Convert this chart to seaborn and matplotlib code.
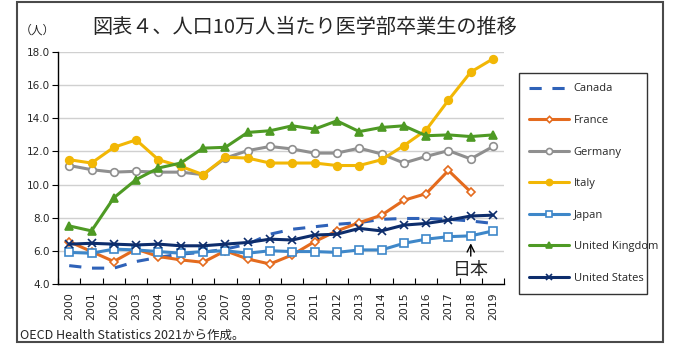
import numpy as np
import pandas as pd
import matplotlib
matplotlib.use("Agg")
import matplotlib.pyplot as plt
import seaborn as sns
from matplotlib.patches import Rectangle

# データ（人口10万人当たり医学部卒業生）
years = list(range(2000, 2020))
canada = [5.1, 4.95, 4.95, 5.35, 5.6, 5.8, 5.9, 6.1, 6.4, 7.0, 7.3, 7.45, 7.6, 7.7, 7.9, 7.95, 7.95, 7.9, 7.8, 7.65]
france = [6.55, 5.95, 5.35, 6.1, 5.65, 5.45, 5.3, 6.0, 5.5, 5.2, 5.75, 6.55, 7.2, 7.7, 8.15, 9.05, 9.45, 10.85, 9.55, np.nan]
germany = [11.15, 10.9, 10.75, 10.8, 10.75, 10.75, 10.6, 11.6, 12.05, 12.3, 12.15, 11.9, 11.9, 12.2, 11.85, 11.3, 11.7, 12.05, 11.55, 12.3]
italy = [11.5, 11.3, 12.25, 12.7, 11.5, 11.1, 10.6, 11.65, 11.6, 11.3, 11.3, 11.3, 11.15, 11.15, 11.5, 12.35, 13.3, 15.1, 16.8, 17.6]
japan = [5.9, 5.85, 6.1, 6.05, 5.95, 5.85, 5.95, 6.0, 5.85, 6.0, 5.95, 5.95, 5.9, 6.05, 6.05, 6.45, 6.7, 6.85, 6.9, 7.2]
uk = [7.5, 7.2, 9.2, 10.3, 11.0, 11.3, 12.2, 12.25, 13.15, 13.25, 13.55, 13.35, 13.85, 13.2, 13.45, 13.55, 12.95, 13.0, 12.9, 13.0]
us = [6.4, 6.45, 6.4, 6.35, 6.4, 6.3, 6.3, 6.4, 6.5, 6.7, 6.65, 6.95, 7.0, 7.35, 7.2, 7.55, 7.65, 7.85, 8.1, 8.15]

sns.set_theme(style="white")
plt.rcParams['font.family'] = ['Noto Sans CJK JP', 'DejaVu Sans']

fig = plt.figure(figsize=(6.75, 3.5), dpi=100)
ax = fig.add_axes([0.086, 0.189, 0.661, 0.662])

# 系列ごとのスタイル: (名前, 値, 色, マーカー, 塗り, 線種)
series = [
    ('Canada', canada, '#2f62b8', None, None, (0, (4, 3.5))),
    ('France', france, '#e46b1e', 'D', 'white', '-'),
    ('Germany', germany, '#8f8f8f', 'o', 'white', '-'),
    ('Italy', italy, '#f2b705', 'o', '#f2b705', '-'),
    ('Japan', japan, '#3e87c9', 's', 'white', '-'),
    ('United Kingdom', uk, '#4e9a24', '^', '#4e9a24', '-'),
    ('United States', us, '#0d2d6c', 'x', '#0d2d6c', '-'),
]

for name, vals, color, marker, face, ls in series:
    df = pd.DataFrame({'year': years, 'value': vals}).dropna()
    kw = dict(x='year', y='value', data=df, ax=ax, color=color,
              linewidth=2.2, label=name)
    if marker is None:
        sns.lineplot(**kw)
        ax.lines[-1].set_linestyle(ls)
    else:
        ms = 4 if marker == 'D' else 5.5
        sns.lineplot(**kw, marker=marker, markersize=ms,
                     markerfacecolor=face, markeredgecolor=color,
                     markeredgewidth=1.2)

ax.set_xlim(1999.5, 2019.5)
ax.set_ylim(4, 18)
ax.set_yticks(np.arange(4, 18.1, 2))
ax.set_yticklabels([f"{v:.1f}" for v in np.arange(4, 18.1, 2)],
                   fontsize=7.5, family='DejaVu Sans')
ax.set_xticks(years)
ax.set_xticklabels([str(y) for y in years], rotation=90, fontsize=7.8,
                   family='DejaVu Sans')
ax.set_xticks(np.arange(1999.5, 2020, 1), minor=True)
ax.tick_params(axis='x', which='major', length=0, pad=6)
ax.tick_params(axis='x', which='minor', direction='in', length=4,
               width=0.8, color='black', bottom=True)
ax.tick_params(axis='y', direction='out', length=4, width=0.8,
               color='black', left=True, pad=2)
ax.set_xlabel('')
ax.set_ylabel('')
ax.yaxis.grid(True, color='#d0d0d0', linewidth=1)
ax.set_axisbelow(True)
for s in ['top', 'right']:
    ax.spines[s].set_visible(False)
for s in ['left', 'bottom']:
    ax.spines[s].set_color('black')
    ax.spines[s].set_linewidth(1)

if ax.get_legend():
    ax.get_legend().remove()
handles, labels = ax.get_legend_handles_labels()
leg = fig.legend(handles, labels, loc='upper left',
                 bbox_to_anchor=(0.761, 0.157, 0.206, 0.649), mode='expand',
                 labelspacing=1.85, handlelength=3.6, markerscale=0.8,
                 handletextpad=0.4, borderpad=0.9, frameon=True,
                 fancybox=False, prop={'family': ['Open Sans', 'DejaVu Sans'], 'size': 8})
leg.get_frame().set_edgecolor('black')
leg.get_frame().set_linewidth(1)

# 日本の注記
ax.annotate('日本', xy=(2018, 6.45), xytext=(2018, 4.85), ha='center',
            va='center', fontsize=13,
            arrowprops=dict(arrowstyle='->', color='black', lw=1,
                            shrinkA=1, shrinkB=0))

fig.text(0.136, 0.922, '図表４、人口10万人当たり医学部卒業生の推移',
         fontsize=14.5, va='center', ha='left')
fig.text(0.03, 0.913, '（人）', fontsize=8.5, va='center', ha='left')
fig.text(0.03, 0.043, 'OECD Health Statistics 2021から作成。', fontsize=9,
         va='center', ha='left')

fig.patches.append(Rectangle((0.025, 0.023), 0.957, 0.971,
                             transform=fig.transFigure, fill=False,
                             edgecolor='#4a4a4a', linewidth=1.5))

fig.savefig('out.png', dpi=100)
